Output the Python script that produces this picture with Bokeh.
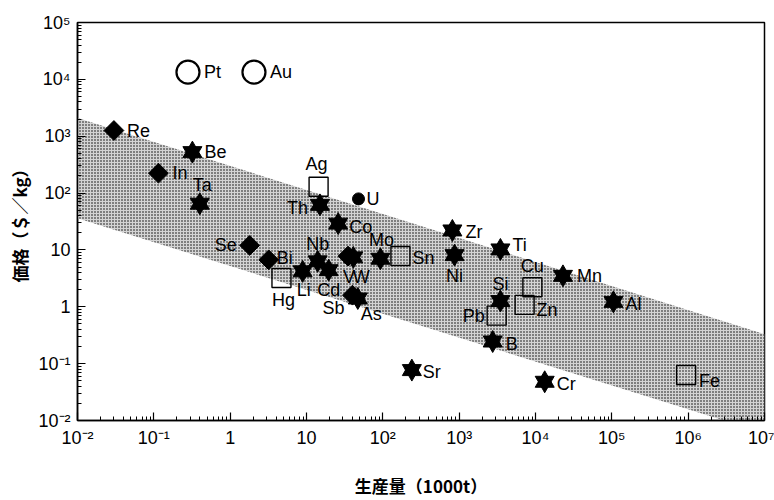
from bokeh.plotting import figure
from bokeh.models import Range1d, FixedTicker, CustomJSTickFormatter, ColumnDataSource
from bokeh.embed import file_html
from bokeh.resources import INLINE
from bokeh.core.properties import value

# ---------------- data ----------------
elements = ["Pt", "Au", "Re", "In", "Be", "Ta", "Ag", "Th", "U", "Co",
            "Se", "Bi", "Hg", "Li", "Nb", "Cd", "V", "W", "Mo", "Sn",
            "Sb", "As", "Zr", "Ni", "Ti", "Si", "Pb", "B", "Cu", "Zn",
            "Mn", "Al", "Fe", "Cr", "Sr"]
production = [0.28, 2.05, 0.030, 0.115, 0.32, 0.40, 14.4, 15, 48, 26,
              1.8, 3.2, 4.7, 8.9, 14, 19.5, 35, 41, 93, 170,
              40, 47, 815, 870, 3470, 3470, 3100, 2750, 9100, 7200,
              22900, 105000, 940000, 13200, 240]          # 1000 t
price = [13400, 13400, 1260, 224, 525, 65, 129, 62, 79, 29,
         12, 6.7, 3.2, 4.2, 6.3, 4.4, 7.8, 7.4, 7.0, 7.8,
         1.6, 1.4, 22, 8.1, 10.2, 1.26, 0.70, 0.245, 2.2, 1.08,
         3.5, 1.22, 0.063, 0.048, 0.077]                   # $/kg
kind = ["circle", "circle", "diamond", "diamond", "star", "star", "square", "star", "dot", "star",
        "diamond", "diamond", "square", "star", "star", "star", "diamond", "star", "star", "square",
        "diamond", "star", "star", "star", "star", "star", "square", "star", "square", "square",
        "star", "star", "square", "star", "star"]

band_x = [1e-2, 1e7]
band_upper = [2100, 0.33]
band_lower = [36, 0.006]

x_major = [1e-2, 1e-1, 1, 10, 1e2, 1e3, 1e4, 1e5, 1e6, 1e7]
y_major = [1e-2, 1e-1, 1, 10, 1e2, 1e3, 1e4, 1e5]

# ---------------- label placement (style) ----------------
# (align, dx, dy) in screen pixels
LABEL_POS = {
    "Pt": ("left", 16, 0), "Au": ("left", 16, 0), "Re": ("left", 13, 0),
    "In": ("left", 14, 0), "Be": ("left", 12, 0), "Ta": ("left", -7, -19),
    "Ag": ("center", -2, -23), "Th": ("right", -12, 3), "U": ("left", 8, 0),
    "Co": ("left", 11, 3), "Se": ("right", -13, 0), "Bi": ("left", 8, -2),
    "Hg": ("center", 2, 22), "Li": ("center", 1, 19), "Nb": ("center", 0, -17),
    "Cd": ("center", 0, 20), "V": ("center", 1, 21), "W": ("center", 8, 20),
    "Mo": ("center", 1, -19), "Sn": ("left", 12, 2), "Sb": ("right", -8, 13),
    "As": ("left", 3, 16), "Zr": ("left", 13, 2), "Ni": ("center", 0, 21),
    "Ti": ("left", 12, -4), "Si": ("center", 0, -17), "Pb": ("right", -12, 0),
    "B": ("left", 13, 2), "Cu": ("center", 0, -21), "Zn": ("left", 12, 5),
    "Mn": ("left", 14, 0), "Al": ("left", 12, 2), "Fe": ("left", 13, 6),
    "Cr": ("left", 12, 2), "Sr": ("left", 11, 2),
}

FONT = "Liberation Sans"
CJK = "Noto Sans CJK JP"

p = figure(width=774, height=500, x_axis_type="log", y_axis_type="log",
           x_range=Range1d(1e-2, 1e7), y_range=Range1d(1e-2, 1e5),
           output_backend="svg", toolbar_location=None,
           min_border_left=77, min_border_right=10, min_border_top=22, min_border_bottom=75)
p.background_fill_color = "white"
p.border_fill_color = "white"
p.outline_line_color = "black"
p.outline_line_width = 1.5
p.xgrid.visible = False
p.ygrid.visible = False

# band (dotted screen)
p.varea(x=band_x, y1=band_lower, y2=band_upper, fill_color="#d4d4d4", fill_alpha=1.0,
        hatch_pattern="dot", hatch_color="black", hatch_scale=3, hatch_weight=1.0, hatch_alpha=1.0)

def subset(k):
    idx = [i for i, kk in enumerate(kind) if kk == k]
    return ColumnDataSource(dict(x=[production[i] for i in idx], y=[price[i] for i in idx]))

# open squares
p.scatter("x", "y", source=subset("square"), marker="square", size=19,
          fill_alpha=0, line_color="black", line_width=1.4)
# open circles
p.scatter("x", "y", source=subset("circle"), marker="circle", size=23,
          fill_color="white", line_color="black", line_width=2.2)
# filled dot
p.scatter("x", "y", source=subset("dot"), marker="circle", size=12,
          fill_color="black", line_color="black")
# diamonds
p.scatter("x", "y", source=subset("diamond"), marker="square", size=14, angle=0.785398,
          fill_color="black", line_color="black")
# six-pointed stars
src_star = subset("star")
p.scatter("x", "y", source=src_star, marker="triangle", size=19, fill_color="black", line_color="black")
p.scatter("x", "y", source=src_star, marker="inverted_triangle", size=19, fill_color="black", line_color="black")

# labels
for name, xv, yv in zip(elements, production, price):
    align, dx, dy = LABEL_POS[name]
    p.text(x=[xv], y=[yv], text=[name], x_offset=dx, y_offset=dy,
           text_align=align, text_baseline="middle",
           text_font=value(FONT), text_font_size="18px", text_color="black")

# axes
fmt = CustomJSTickFormatter(code="""
const e = Math.round(Math.log10(tick));
const sup = {"-":"\u207b","0":"\u2070","1":"\u00b9","2":"\u00b2","3":"\u00b3","4":"\u2074","5":"\u2075","6":"\u2076","7":"\u2077","8":"\u2078","9":"\u2079"};
if (e == 0) return "1";
if (e == 1) return "10";
return "10" + String(e).split("").map(c => sup[c]).join("");
""")

minors_x = [m * 10.0 ** k for k in range(-2, 7) for m in range(2, 10)]
minors_y = [m * 10.0 ** k for k in range(-2, 5) for m in range(2, 10)]
p.xaxis.ticker = FixedTicker(ticks=x_major, minor_ticks=minors_x)
p.yaxis.ticker = FixedTicker(ticks=y_major, minor_ticks=minors_y)

for ax in (p.xaxis[0], p.yaxis[0]):
    ax.formatter = fmt
    ax.axis_line_color = "black"
    ax.axis_line_width = 1.5
    ax.major_tick_in = 8
    ax.major_tick_out = 0
    ax.minor_tick_in = 4
    ax.minor_tick_out = 0
    ax.major_tick_line_color = "black"
    ax.minor_tick_line_color = "black"
    ax.major_tick_line_width = 1.2
    ax.minor_tick_line_width = 1.0
    ax.major_label_text_font = FONT
    ax.major_label_text_font_size = "18px"
    ax.major_label_text_color = "black"
    ax.axis_label_text_font = CJK
    ax.axis_label_text_font_size = "17px"
    ax.axis_label_text_font_style = "bold"
    ax.axis_label_text_color = "black"

p.xaxis.axis_label = "生産量（1000t）"
p.yaxis.axis_label = "価格（＄／kg）"
p.xaxis.major_label_standoff = 7
p.yaxis.major_label_standoff = 7
p.xaxis.axis_label_standoff = 22
p.yaxis.axis_label_standoff = 3

open("out.html", "w").write(file_html(p, INLINE))
